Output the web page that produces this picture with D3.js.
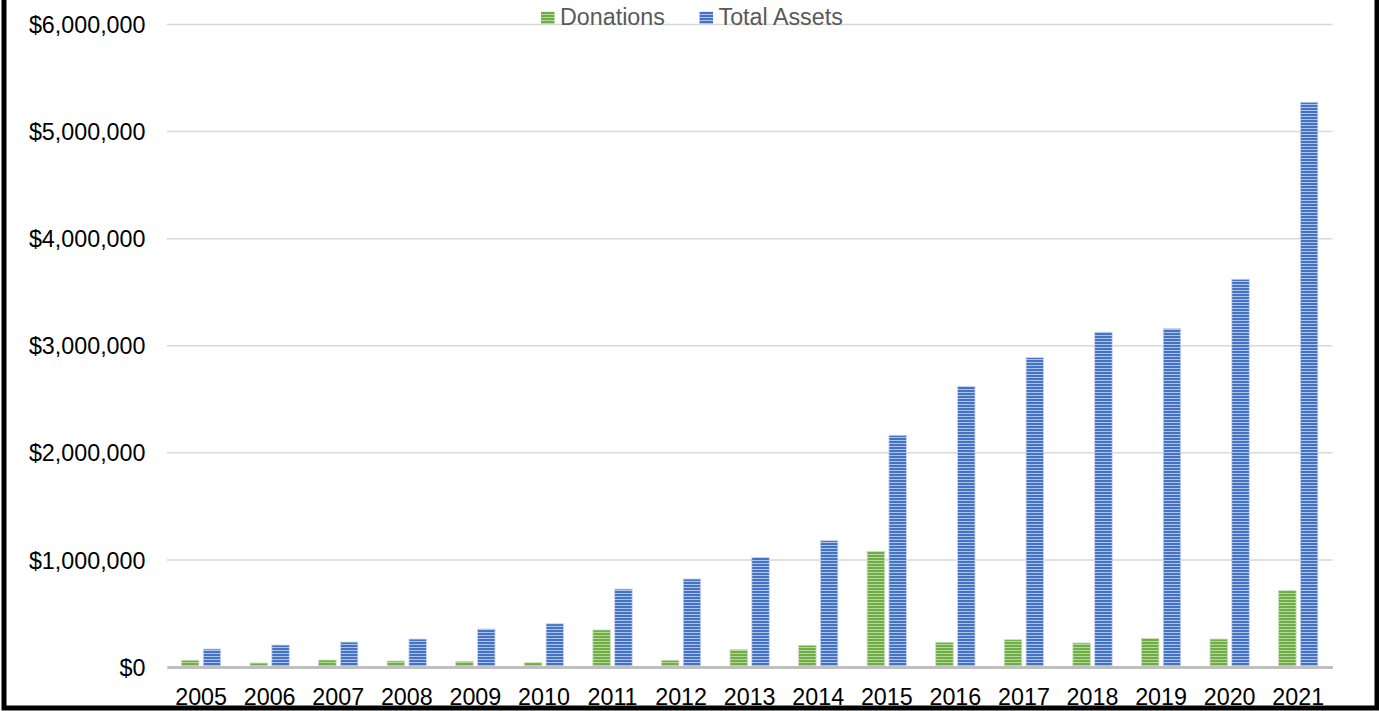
<!DOCTYPE html>
<html>
<head>
<meta charset="utf-8">
<script src="https://cdn.jsdelivr.net/npm/d3@7/dist/d3.min.js"></script>
<style>
  html, body { margin: 0; padding: 0; background: #fff; }
  svg { display: block; }
</style>
</head>
<body>
<script>
const years = ["2005","2006","2007","2008","2009","2010","2011","2012","2013","2014","2015","2016","2017","2018","2019","2020","2021"];
const donations = [63000, 37000, 65000, 56000, 53000, 40000, 346000, 63000, 162000, 203000, 1080000, 231000, 255000, 224000, 268000, 261000, 713000];
const totalAssets = [168000, 205000, 233000, 261000, 355000, 404000, 728000, 822000, 1024000, 1180000, 2164000, 2621000, 2889000, 3128000, 3160000, 3621000, 5274000];
const yTicks = [0, 1000000, 2000000, 3000000, 4000000, 5000000, 6000000];
const seriesNames = ["Donations", "Total Assets"];

const W = 1379, H = 711;
const svg = d3.select("body").append("svg").attr("width", W).attr("height", H);

const defs = svg.append("defs");
function stripe(id, dark, light) {
  const p = defs.append("pattern").attr("id", id).attr("patternUnits", "userSpaceOnUse")
    .attr("width", 8).attr("height", 3);
  p.append("rect").attr("width", 8).attr("height", 3).attr("fill", dark);
  p.append("rect").attr("y", 2).attr("width", 8).attr("height", 1).attr("fill", light);
}
stripe("pBlue", "#4472C4", "#AFC3E8");
stripe("pGreen", "#70AD47", "#B5D89C");

const plotLeft = 166.8, plotRight = 1332.5, plotTop = 24.5, plotBottom = 667;
const x = d3.scaleBand().domain(years).range([plotLeft, plotRight]).paddingInner(0).paddingOuter(0);
const y = d3.scaleLinear().domain([0, 6000000]).range([plotBottom, plotTop]);

// gridlines
svg.append("g").selectAll("line").data(yTicks.filter(d => d > 0)).join("line")
  .attr("x1", plotLeft).attr("x2", plotRight)
  .attr("y1", d => y(d)).attr("y2", d => y(d))
  .attr("stroke", "#D9D9D9").attr("stroke-width", 1.5);

// y axis labels
const yAxis = d3.axisLeft(y).tickValues(yTicks).tickSize(0).tickPadding(0)
  .tickFormat(d => "$" + d3.format(",")(d));
const yg = svg.append("g").attr("transform", `translate(145.5,0)`).call(yAxis);
yg.select(".domain").remove();
yg.selectAll("text").attr("font-family", "Liberation Sans, Arial, sans-serif")
  .attr("font-size", 23.3).attr("fill", "#000").attr("dy", "0.35em");

// bars
const bw = 17.5, gap = 4.3;
const center = d => x(d) + x.bandwidth() / 2;
const barsG = svg.append("g");
barsG.selectAll("rect.don").data(years).join("rect").attr("class", "don")
  .attr("x", (d) => center(d) - gap / 2 - bw)
  .attr("width", bw)
  .attr("y", (d, i) => y(donations[i]))
  .attr("height", (d, i) => y(0) - y(donations[i]))
  .attr("fill", "url(#pGreen)").attr("stroke", "#C5E0B4").attr("stroke-width", 0.8);
barsG.selectAll("rect.ta").data(years).join("rect").attr("class", "ta")
  .attr("x", (d) => center(d) + gap / 2)
  .attr("width", bw)
  .attr("y", (d, i) => y(totalAssets[i]))
  .attr("height", (d, i) => y(0) - y(totalAssets[i]))
  .attr("fill", "url(#pBlue)").attr("stroke", "#C9D6EF").attr("stroke-width", 0.8);

// x axis
const xAxis = d3.axisBottom(x).tickSize(0).tickPadding(0);
const xg = svg.append("g").attr("transform", `translate(0,${plotBottom})`).call(xAxis);
xg.select(".domain").attr("stroke", "#BFBFBF").attr("stroke-width", 3.2);
xg.selectAll("text").attr("font-family", "Liberation Sans, Arial, sans-serif")
  .attr("font-size", 23.3).attr("fill", "#000").attr("y", 38).attr("dy", 0);

// legend
const legend = svg.append("g");
const legItems = [
  { name: seriesNames[0], fill: "url(#pGreen)", x: 541 },
  { name: seriesNames[1], fill: "url(#pBlue)", x: 699.5 }
];
legItems.forEach(it => {
  legend.append("rect").attr("x", it.x).attr("y", 11.7).attr("width", 13.5).attr("height", 12.3).attr("fill", it.fill);
  legend.append("text").attr("x", it.x + 19).attr("y", 24.5)
    .attr("font-family", "Liberation Sans, Arial, sans-serif").attr("font-size", 23.3)
    .attr("fill", "#595959").text(it.name);
});

// outer border
svg.append("rect").attr("x", 4).attr("y", -10).attr("width", 1373).attr("height", 718)
  .attr("fill", "none").attr("stroke", "#000").attr("stroke-width", 5);
</script>
</body>
</html>
